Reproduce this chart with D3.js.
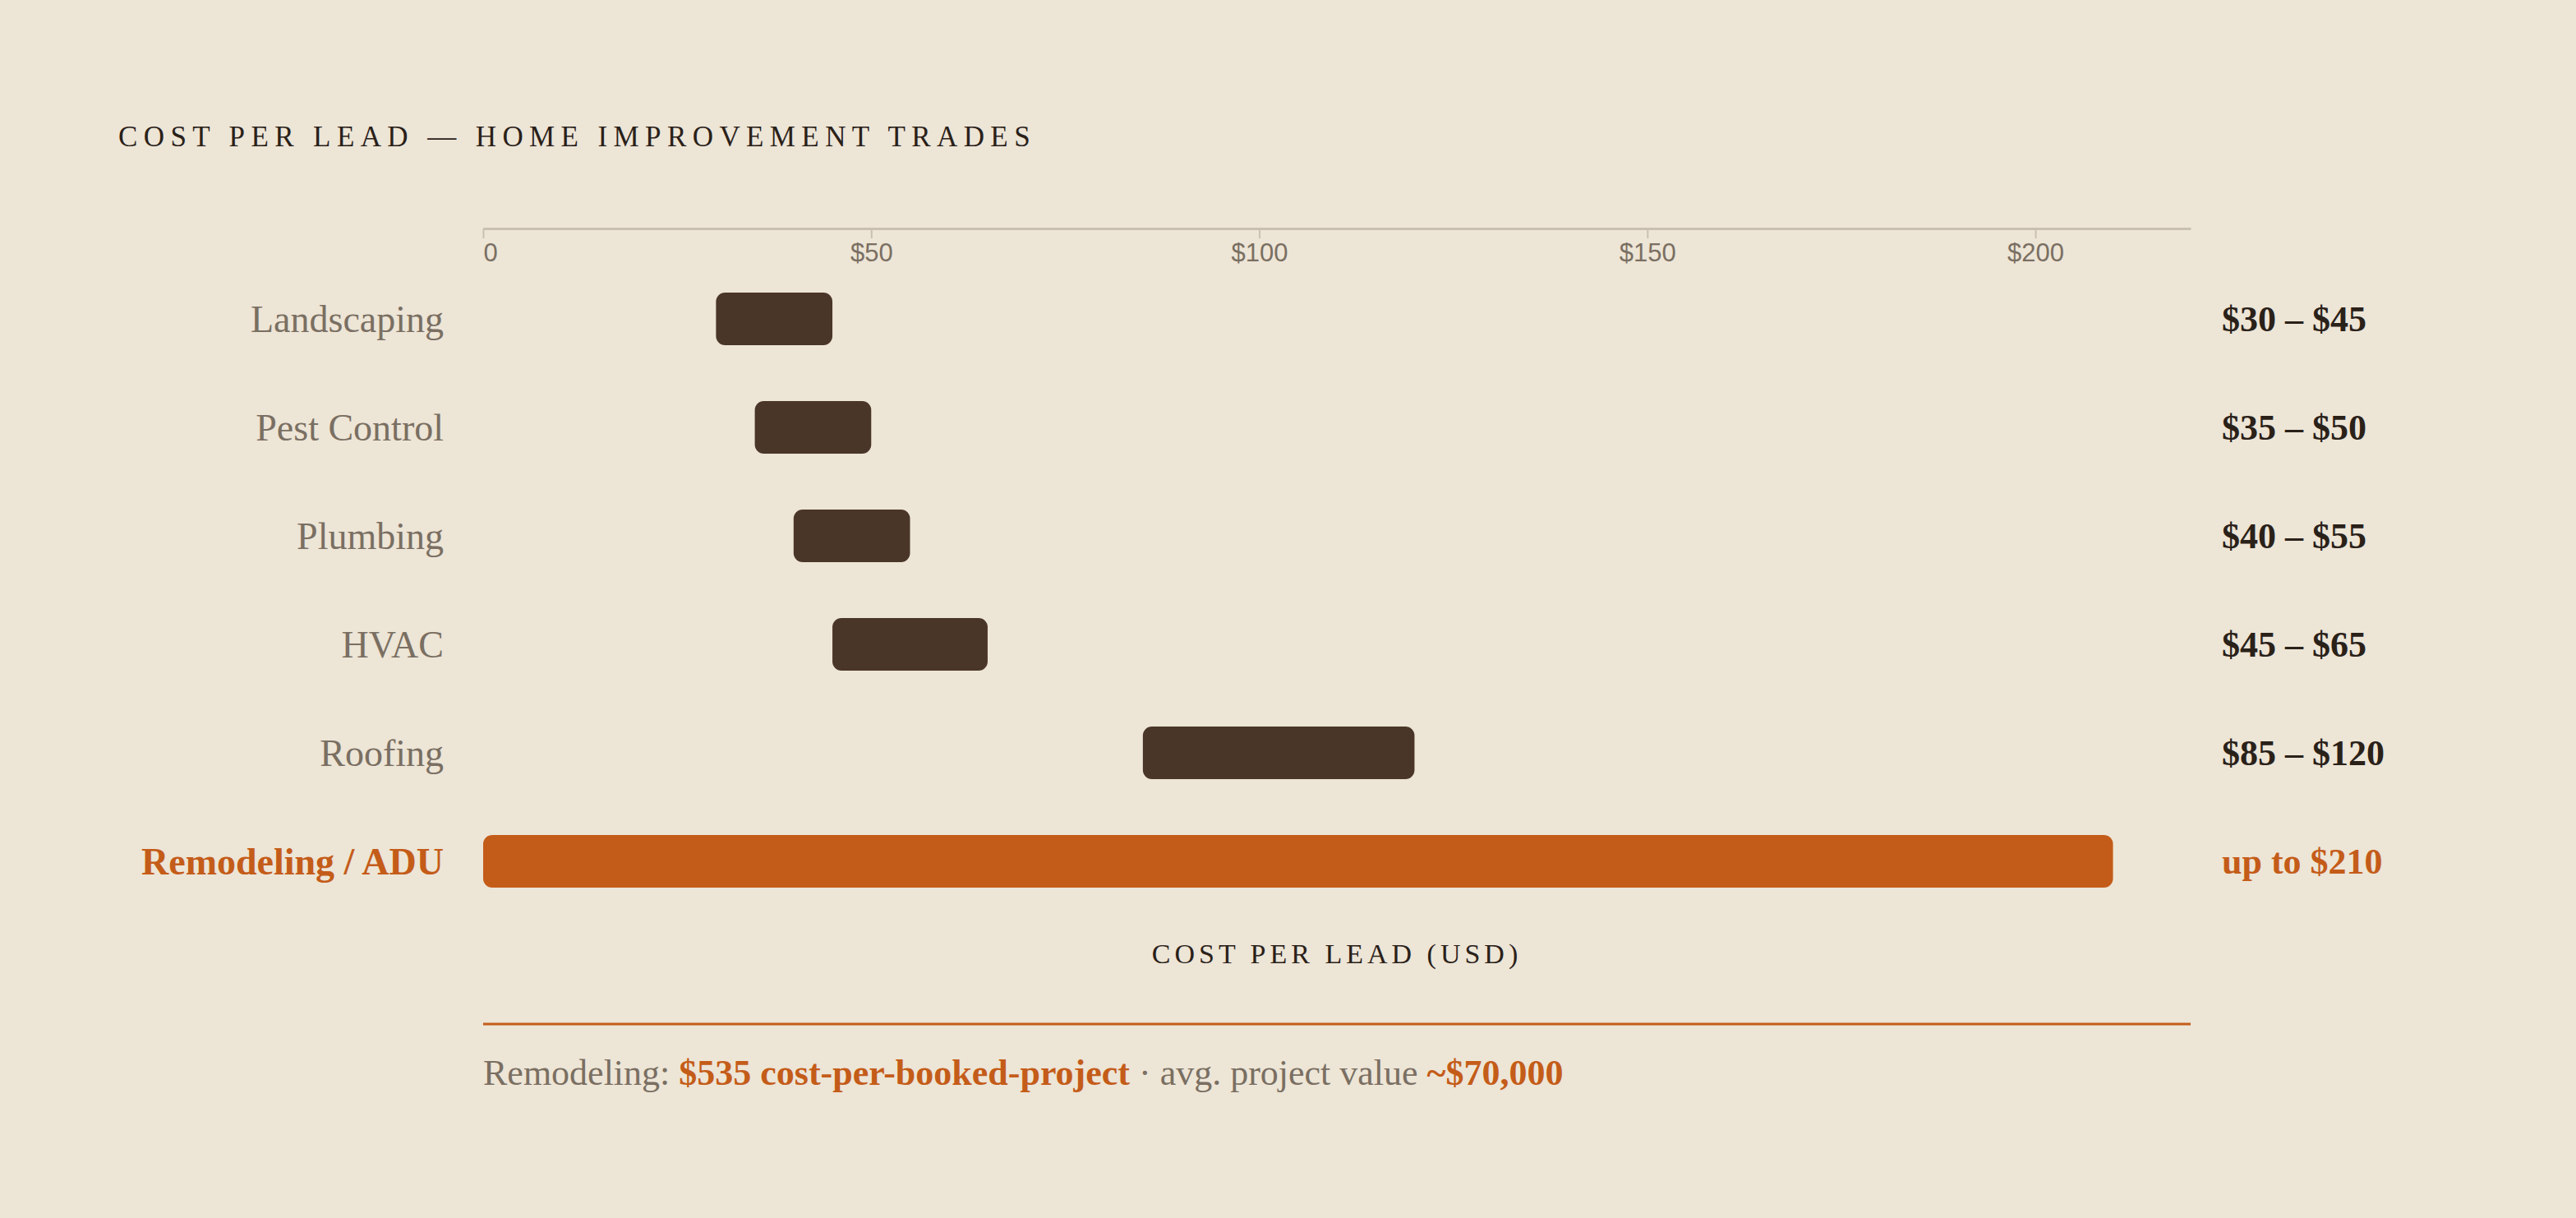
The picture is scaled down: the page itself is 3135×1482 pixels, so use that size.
<!DOCTYPE html>
<html>
<head>
<meta charset="utf-8">
<script src="https://cdn.jsdelivr.net/npm/d3@7"></script>
<style>
  html, body {margin: 0; padding: 0; background: #ede5d6;}
  svg {display: block;}
</style>
</head>
<body>
<svg id="chart"></svg>
<script>
	// Data.
	var trades = ['Landscaping', 'Pest Control', 'Plumbing', 'HVAC', 'Roofing', 'Remodeling / ADU'];
	var lowCost = [30, 35, 40, 45, 85, 0];
	var highCost = [45, 50, 55, 65, 120, 210];
	var rangeLabels = ['$30 – $45', '$35 – $50', '$40 – $55', '$45 – $65', '$85 – $120', 'up to $210'];
	var highlighted = [false, false, false, false, false, true];
	var tickValues = [0, 50, 100, 150, 200];
	var footParts = [
		{text: 'Remodeling: ', bold: false},
		{text: '$535 cost-per-booked-project', bold: true},
		{text: ' · avg. project value ', bold: false},
		{text: '~$70,000', bold: true}];

	var W = 3135, H = 1482,
			serif = '"Liberation Serif", "DejaVu Serif", serif',
			sans = '"Liberation Sans", Arial, sans-serif',
			dark = '#4a3628', orange = '#c45c19', ink = '#2a2119', grey = '#7a6f62';

	var svg = d3.select('#chart').attr('width', W).attr('height', H);
	svg.append('rect').attr('width', W).attr('height', H).attr('fill', '#ede5d6');

	var rows = trades.map(function(t, i) {
		return {name: t, lo: lowCost[i], hi: highCost[i], label: rangeLabels[i], hot: highlighted[i]};});

	var x = d3.scaleLinear().domain([0, 220]).range([588, 2666]);
	var y = d3.scaleBand().domain(trades).range([322, 1114]).paddingInner(0.515).paddingOuter(0.257);

	// Title.
	svg.append('text')
		.attr('x', 144).attr('y', 178)
		.style('font-family', serif).style('font-size', '35px')
		.style('letter-spacing', '7.4px')
		.attr('fill', ink)
		.text('COST PER LEAD — HOME IMPROVEMENT TRADES');

	// Axis on top, ticks hanging down.
	var axis = svg.append('g')
		.attr('transform', 'translate(0,278)')
		.call(d3.axisBottom(x).tickValues(tickValues).tickSize(12).tickSizeOuter(0).tickPadding(6)
			.tickFormat(function(d) {return d === 0 ? '0' : '$' + d;}));
	axis.select('.domain').attr('stroke', '#c9c0b1').attr('stroke-width', 3);
	axis.selectAll('.tick line').attr('stroke', '#c9c0b1').attr('stroke-width', 2);
	axis.selectAll('.tick text')
		.style('font-family', sans).style('font-size', '31px')
		.attr('fill', grey)
		.attr('text-anchor', function(d) {return d === 0 ? 'start' : 'middle';});

	var row = svg.selectAll('.row').data(rows).enter()
		.append('g').attr('class', 'row');

	row.append('rect')
		.attr('x', function(d) {return x(d.lo);})
		.attr('y', function(d) {return y(d.name);})
		.attr('width', function(d) {return x(d.hi) - x(d.lo);})
		.attr('height', y.bandwidth())
		.attr('rx', 11).attr('ry', 11)
		.attr('fill', function(d) {return d.hot ? orange : dark;});

	// Trade names, right aligned.
	row.append('text')
		.attr('x', 540)
		.attr('y', function(d) {return y(d.name) + y.bandwidth() / 2;})
		.attr('dy', '0.35em')
		.attr('text-anchor', 'end')
		.style('font-family', serif).style('font-size', '46px')
		.style('font-weight', function(d) {return d.hot ? 'bold' : 'normal';})
		.attr('fill', function(d) {return d.hot ? orange : grey;})
		.text(function(d) {return d.name;});

	// Range labels on the right.
	row.append('text')
		.attr('x', 2704)
		.attr('y', function(d) {return y(d.name) + y.bandwidth() / 2;})
		.attr('dy', '0.35em')
		.style('font-family', serif).style('font-size', '44px').style('font-weight', 'bold')
		.attr('fill', function(d) {return d.hot ? orange : ink;})
		.text(function(d) {return d.label;});

	// Axis title.
	svg.append('text')
		.attr('x', (x.range()[0] + x.range()[1]) / 2).attr('y', 1172)
		.attr('text-anchor', 'middle')
		.style('font-family', serif).style('font-size', '34px')
		.style('letter-spacing', '5px')
		.attr('fill', ink)
		.text('COST PER LEAD (USD)');

	// Orange rule and footnote.
	svg.append('line')
		.attr('x1', x.range()[0]).attr('x2', x.range()[1])
		.attr('y1', 1246).attr('y2', 1246)
		.attr('stroke', orange).attr('stroke-width', 3);

	svg.append('text')
		.attr('x', x.range()[0]).attr('y', 1320)
		.style('font-family', serif).style('font-size', '44px')
		.selectAll('tspan').data(footParts).enter()
		.append('tspan')
		.style('font-weight', function(d) {return d.bold ? 'bold' : 'normal';})
		.attr('fill', function(d) {return d.bold ? orange : grey;})
		.text(function(d) {return d.text;});
</script>
</body>
</html>
